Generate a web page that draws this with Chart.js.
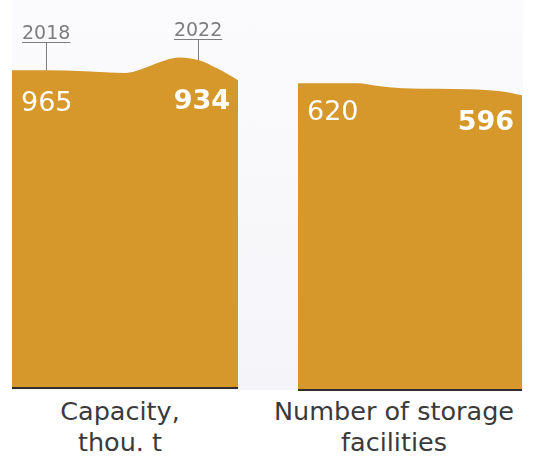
<!DOCTYPE html>
<html>
<head>
<meta charset="utf-8">
<script src="https://cdn.jsdelivr.net/npm/chart.js@4.4.1/dist/chart.umd.min.js"></script>
<style>
  body { margin: 0; background: #fff; width: 541px; height: 456px; overflow: hidden; }
  #bg { position: absolute; left: 12px; top: 0; width: 511px; height: 390px;
        background: linear-gradient(#fbfbfd, #f5f5f9); }
  canvas { position: absolute; }
  .cat { position: absolute; top: 396px; text-align: center; font-family: 'DejaVu Sans', sans-serif;
         font-size: 25.5px; line-height: 31px; color: #3a3a3a; white-space: nowrap; }
</style>
</head>
<body>
<div id="bg"></div>
<canvas id="cap" width="226" height="389" style="left:12px;top:0"></canvas>
<canvas id="num" width="224" height="391" style="left:298px;top:0"></canvas>
<div class="cat" style="left:0;width:240px">Capacity,<br>thou. t</div>
<div class="cat" style="left:264px;width:260px">Number of storage<br>facilities</div>
<script>
// outline of the capacity panel (thou. t), by year
const capYears = [2017.1, 2018, 2019, 2020.1, 2020.5, 2021, 2021.5, 2022, 2022.5, 2023.05];
const capShape = [965, 965, 962, 957, 968, 990, 1004, 996, 971, 935];
// outline of the facilities panel, by year
const numYears = [2017.1, 2018.67, 2019.28, 2019.89, 2021.67, 2022.47, 2023.05];
const numShape = [620, 620, 614, 610, 608, 604, 596];

const capValues = ['965', '934'];
const numValues = ['620', '596'];
const pinYears = [2018, 2022];

const gold = '#d6972b';

// white value labels inside the area + bottom rule
function labelsPlugin(values, pos) {
  return {
    id: 'labels',
    afterDatasetsDraw(chart) {
      const ctx = chart.ctx;
      const a = chart.chartArea;
      ctx.save();
      ctx.fillStyle = '#fff';
      ctx.textBaseline = 'alphabetic';
      ctx.font = '27px "DejaVu Sans", sans-serif';
      ctx.textAlign = 'left';
      ctx.fillText(values[0], a.left + 9, a.top + pos[0]);
      ctx.font = 'bold 27px "DejaVu Sans", sans-serif';
      ctx.textAlign = 'right';
      ctx.fillText(values[1], a.right - 8, a.top + pos[1]);
      ctx.fillStyle = '#2e2e2e';
      ctx.fillRect(a.left, a.bottom - 2, a.right - a.left, 2);
      ctx.restore();
    }
  };
}

// year pins above the capacity area
const pinPlugin = {
  id: 'pins',
  afterDatasetsDraw(chart) {
    const ctx = chart.ctx;
    const meta = chart.getDatasetMeta(0);
    const xs = chart.scales.x;
    const under = [42, 39];
    ctx.save();
    ctx.font = '19px "DejaVu Sans", sans-serif';
    ctx.textAlign = 'center';
    ctx.strokeStyle = '#7d7d7d';
    ctx.fillStyle = '#7d7d7d';
    ctx.lineWidth = 1;
    pinYears.forEach((yr, i) => {
      const x = xs.getPixelForValue(yr);
      const idx = capYears.indexOf(yr);
      const top = meta.data[idx].y;
      const w = ctx.measureText(String(yr)).width;
      ctx.fillText(String(yr), x, under[i] - 3);
      ctx.beginPath();
      ctx.moveTo(x - w / 2, under[i] + 0.5);
      ctx.lineTo(x + w / 2, under[i] + 0.5);
      ctx.moveTo(Math.round(x) + 0.5, under[i]);
      ctx.lineTo(Math.round(x) + 0.5, top);
      ctx.stroke();
    });
    ctx.restore();
  }
};

function makeChart(id, years, shape, yMax, plugins) {
  return new Chart(document.getElementById(id), {
    type: 'line',
    data: {
      datasets: [{
        data: years.map((x, i) => ({ x: x, y: shape[i] })),
        backgroundColor: gold,
        borderWidth: 0,
        pointRadius: 0,
        fill: 'origin',
        cubicInterpolationMode: 'monotone'
      }]
    },
    options: {
      responsive: false,
      animation: false,
      layout: { padding: 0 },
      plugins: { legend: { display: false }, tooltip: { enabled: false } },
      scales: {
        x: { type: 'linear', min: 2017.1, max: 2023.05, display: false },
        y: { min: 0, max: yMax, display: false }
      }
    },
    plugins: plugins
  });
}

makeChart('cap', capYears, capShape, 1178, [labelsPlugin(capValues, [111, 109]), pinPlugin]);
makeChart('num', numYears, numShape, 788, [labelsPlugin(numValues, [120, 130])]);
</script>
</body>
</html>
